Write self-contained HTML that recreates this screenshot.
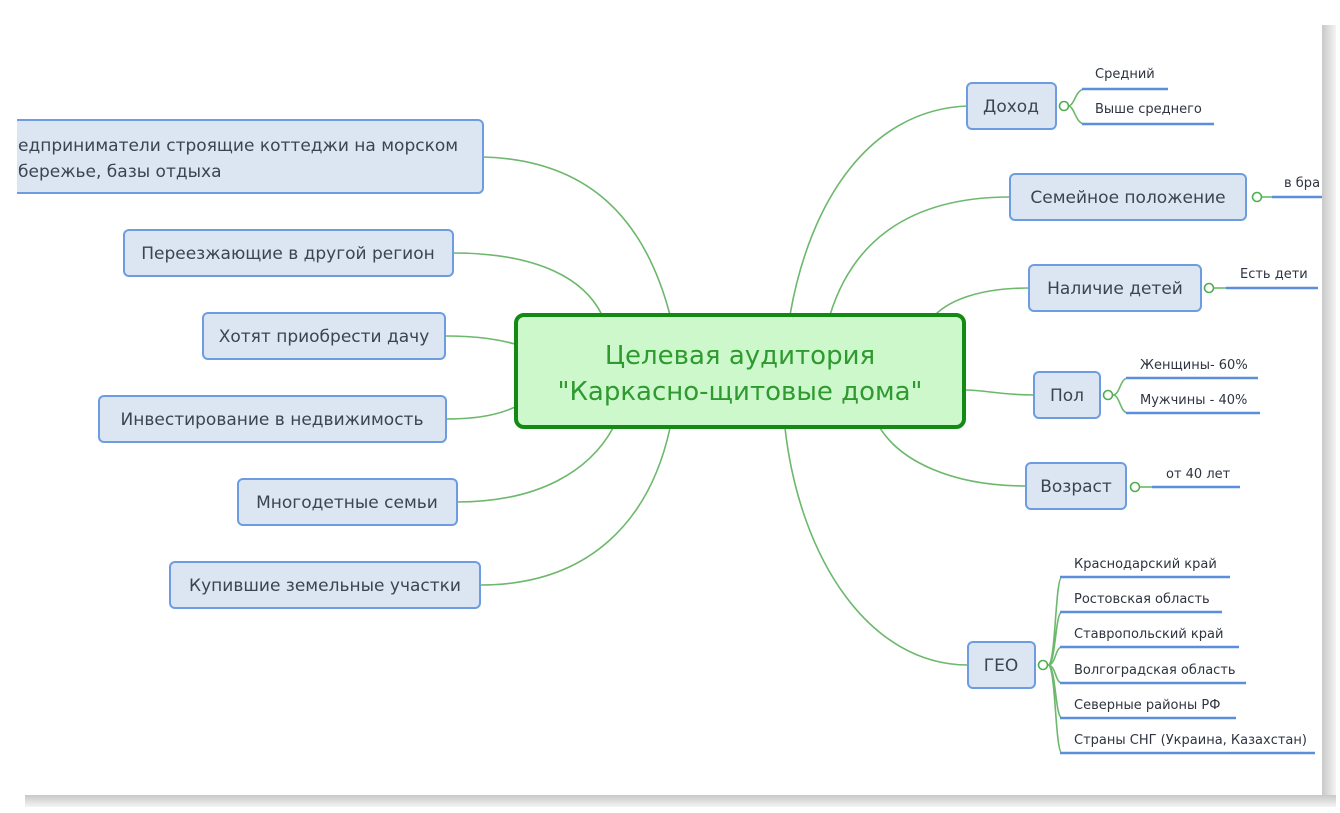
<!DOCTYPE html>
<html><head><meta charset="utf-8"><style>
html,body{margin:0;padding:0;background:#fff;}
svg{display:block;}
text{font-family:"DejaVu Sans","Liberation Sans",sans-serif;}
</style></head><body>
<svg width="1340" height="813" viewBox="0 0 1340 813" xmlns="http://www.w3.org/2000/svg">
<defs>
<linearGradient id="rs" x1="0" x2="1"><stop offset="0" stop-color="#c8c8c8"/><stop offset="1" stop-color="#f4f4f4"/></linearGradient>
<linearGradient id="bs" x1="0" x2="0" y1="0" y2="1"><stop offset="0" stop-color="#c8c8c8"/><stop offset="1" stop-color="#f4f4f4"/></linearGradient>
</defs>
<rect x="1322" y="25" width="14" height="780" fill="url(#rs)"/>
<rect x="25" y="795" width="1311" height="12" fill="url(#bs)"/>
<g fill="none" stroke="#6cb86c" stroke-width="1.6">
<path d="M483,157 C590,160 645,220 670,315"/>
<path d="M453,253 C540,253 585,280 602,315"/>
<path d="M445,336 C480,336 500,340 515,344"/>
<path d="M446,419 C480,419 500,414 515,407"/>
<path d="M457,502 C540,502 590,470 613,428"/>
<path d="M480,585 C590,585 650,520 670,428"/>
<path d="M967,106 C870,110 810,200 790,315"/>
<path d="M1010,197 C900,197 850,250 830,315"/>
<path d="M1029,288 C980,288 950,300 935,315"/>
<path d="M1034,395 C1000,395 985,390 965,390"/>
<path d="M1026,486 C950,486 900,460 880,428"/>
<path d="M968,665 C870,665 800,560 785,428"/>
<path d="M1068,106 C1075,106 1075,89 1085,89 M1068,106 C1075,106 1075,124 1085,124"/>
<path d="M1262,197 L1272,197"/>
<path d="M1214,288 L1226,288"/>
<path d="M1113,395 C1120,395 1120,378 1128,378 M1113,395 C1120,395 1120,413 1128,413"/>
<path d="M1140,487 L1152,487"/>
<path d="M1048,665 C1056,665 1055,577 1062,577 M1048,665 C1056,665 1055,612 1062,612 M1048,665 C1056,665 1055,647 1062,647 M1048,665 C1056,665 1055,683 1062,683 M1048,665 C1056,665 1055,718 1062,718 M1048,665 C1056,665 1055,753 1062,753"/>
</g>
<g fill="#fff" stroke="#4fae4f" stroke-width="1.6">
<circle cx="1064" cy="106" r="4.5"/><circle cx="1257" cy="197" r="4.5"/><circle cx="1209" cy="288" r="4.5"/>
<circle cx="1108" cy="395" r="4.5"/><circle cx="1135" cy="487" r="4.5"/><circle cx="1043" cy="665" r="4.5"/>
</g>
<g stroke="#5b8fdc" stroke-width="2.5">
<line x1="1082" y1="89" x2="1168" y2="89"/><line x1="1082" y1="124" x2="1214" y2="124"/>
<line x1="1272" y1="197" x2="1322" y2="197"/><line x1="1226" y1="288" x2="1318" y2="288"/>
<line x1="1126" y1="378" x2="1258" y2="378"/><line x1="1126" y1="413" x2="1260" y2="413"/>
<line x1="1152" y1="487" x2="1240" y2="487"/>
<line x1="1060" y1="577" x2="1230" y2="577"/><line x1="1060" y1="612" x2="1222" y2="612"/>
<line x1="1060" y1="647" x2="1239" y2="647"/><line x1="1060" y1="683" x2="1246" y2="683"/>
<line x1="1060" y1="718" x2="1236" y2="718"/><line x1="1060" y1="753" x2="1315" y2="753"/>
</g>
<g fill="#dce6f2" stroke="#6d9de0" stroke-width="2">
<rect x="-20" y="120" width="503" height="73" rx="5"/>
<rect x="124" y="230" width="329" height="46" rx="5"/>
<rect x="203" y="313" width="242" height="46" rx="5"/>
<rect x="99" y="396" width="347" height="46" rx="5"/>
<rect x="238" y="479" width="219" height="46" rx="5"/>
<rect x="170" y="562" width="310" height="46" rx="5"/>
<rect x="967" y="83" width="89" height="46" rx="5"/>
<rect x="1010" y="174" width="236" height="46" rx="5"/>
<rect x="1029" y="265" width="172" height="46" rx="5"/>
<rect x="1034" y="372" width="66" height="46" rx="5"/>
<rect x="1026" y="463" width="100" height="46" rx="5"/>
<rect x="968" y="642" width="67" height="46" rx="5"/>
</g>
<rect x="516" y="315" width="448" height="112" rx="8" fill="#ccf8cc" stroke="#138a13" stroke-width="4"/>
<g fill="#2f9a2f" font-size="26" text-anchor="middle">
<text x="740" y="364">Целевая аудитория</text>
<text x="740" y="400">"Каркасно-щитовые дома"</text>
</g>
<g fill="#3c4450" font-size="17">
<text x="18" y="151">едприниматели строящие коттеджи на морском</text>
<text x="18" y="177">бережье, базы отдыха</text>
<text x="288" y="259" text-anchor="middle">Переезжающие в другой регион</text>
<text x="324" y="342" text-anchor="middle">Хотят приобрести дачу</text>
<text x="272" y="425" text-anchor="middle">Инвестирование в недвижимость</text>
<text x="347" y="508" text-anchor="middle">Многодетные семьи</text>
<text x="325" y="591" text-anchor="middle">Купившие земельные участки</text>
<text x="1011" y="112" text-anchor="middle">Доход</text>
<text x="1128" y="203" text-anchor="middle">Семейное положение</text>
<text x="1115" y="294" text-anchor="middle">Наличие детей</text>
<text x="1067" y="401" text-anchor="middle">Пол</text>
<text x="1076" y="492" text-anchor="middle">Возраст</text>
<text x="1001" y="671" text-anchor="middle">ГЕО</text>
</g>
<rect x="0" y="110" width="17" height="90" fill="#fff"/>
<g fill="#2e3440" font-size="13">
<text x="1095" y="78">Средний</text>
<text x="1095" y="113">Выше среднего</text>
<text x="1284" y="187">в бра</text>
<text x="1240" y="278">Есть дети</text>
<text x="1140" y="369">Женщины- 60%</text>
<text x="1140" y="404">Мужчины - 40%</text>
<text x="1166" y="478">от 40 лет</text>
<text x="1074" y="568">Краснодарский край</text>
<text x="1074" y="603">Ростовская область</text>
<text x="1074" y="638">Ставропольский край</text>
<text x="1074" y="674">Волгоградская область</text>
<text x="1074" y="709">Северные районы РФ</text>
<text x="1074" y="744">Страны СНГ (Украина, Казахстан)</text>
</g>
<rect x="1322" y="0" width="18" height="25" fill="#fff"/>
<rect x="1322" y="170" width="0" height="0" fill="#fff"/>
</svg>
</body></html>
